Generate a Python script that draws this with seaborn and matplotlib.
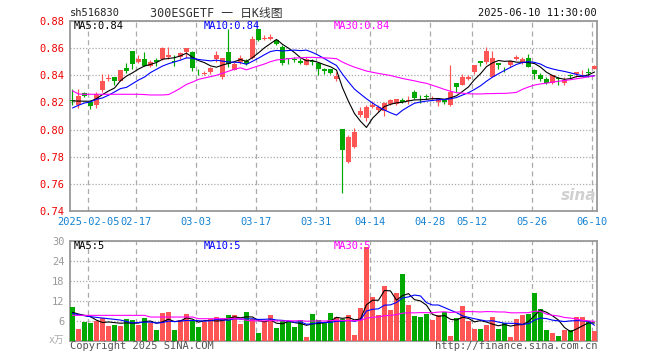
import numpy as np
import pandas as pd
import matplotlib
matplotlib.use("Agg")
import matplotlib.pyplot as plt
import seaborn as sns

# ---------------- data ----------------
tick_labels = ["2025-02-05", "02-17", "03-03", "03-17", "03-31",
               "04-14", "04-28", "05-12", "05-26", "06-10"]
tick_index = [3, 11, 21, 31, 41, 50, 60, 67, 77, 87]

opens = [0.822, 0.818, 0.827, 0.820, 0.818, 0.829, 0.837, 0.839, 0.836, 0.845,
         0.858, 0.850, 0.852, 0.847, 0.8509, 0.852, 0.8535, 0.8503, 0.8535, 0.857,
         0.857, 0.8435, 0.8413, 0.8425, 0.852, 0.839, 0.857, 0.8437, 0.850, 0.8503,
         0.853, 0.874, 0.867, 0.8665, 0.8658, 0.861, 0.8528, 0.8523, 0.8503, 0.8479,
         0.8503, 0.8493, 0.8449, 0.8444, 0.8371, 0.8007, 0.7762, 0.7872, 0.8110, 0.8086,
         0.8167, 0.8142, 0.8135, 0.8191, 0.8191, 0.8216, 0.8213, 0.8277, 0.8228, 0.8248,
         0.8226, 0.8204, 0.8221, 0.8184, 0.8344, 0.8331, 0.8371, 0.8425, 0.8503, 0.8498,
         0.8388, 0.8493, 0.8449, 0.8479, 0.8518, 0.8498, 0.8528, 0.8437, 0.8405, 0.8376,
         0.8346, 0.8380, 0.8346, 0.8400, 0.8412, 0.8407, 0.8425, 0.8449]
highs = [0.830, 0.830, 0.828, 0.822, 0.828, 0.841, 0.841, 0.839, 0.844, 0.849,
         0.858, 0.855, 0.857, 0.851, 0.853, 0.861, 0.861, 0.855, 0.857, 0.860,
         0.858, 0.845, 0.843, 0.846, 0.858, 0.853, 0.874, 0.850, 0.855, 0.852,
         0.869, 0.8744, 0.8695, 0.8707, 0.8658, 0.862, 0.8528, 0.8535, 0.8528, 0.8535,
         0.8523, 0.8498, 0.8454, 0.8450, 0.8425, 0.8007, 0.7958, 0.8012, 0.8167, 0.8184,
         0.8208, 0.8184, 0.8204, 0.8223, 0.8228, 0.8233, 0.8248, 0.8289, 0.8257, 0.8265,
         0.8250, 0.8228, 0.8228, 0.8479, 0.8344, 0.8412, 0.8400, 0.8479, 0.8503, 0.8609,
         0.8577, 0.8493, 0.8461, 0.8511, 0.8552, 0.8535, 0.8560, 0.8449, 0.8420, 0.8388,
         0.8400, 0.8388, 0.8388, 0.8412, 0.8425, 0.8437, 0.8454, 0.8474]
lows = [0.818, 0.816, 0.824, 0.815, 0.816, 0.828, 0.836, 0.833, 0.836, 0.842,
        0.845, 0.849, 0.847, 0.846, 0.847, 0.851, 0.852, 0.847, 0.852, 0.853,
        0.843, 0.8405, 0.840, 0.8413, 0.850, 0.8376, 0.846, 0.8437, 0.8486, 0.8474,
        0.852, 0.865, 0.8658, 0.8658, 0.862, 0.8474, 0.8486, 0.8498, 0.8486, 0.8474,
        0.8474, 0.8405, 0.8413, 0.8413, 0.8356, 0.7536, 0.7757, 0.7865, 0.8093, 0.8061,
        0.8159, 0.8130, 0.8100, 0.8179, 0.8179, 0.8199, 0.8191, 0.8223, 0.8199, 0.8223,
        0.8216, 0.8174, 0.8191, 0.8174, 0.8277, 0.8326, 0.8363, 0.8412, 0.8469, 0.8486,
        0.8388, 0.8444, 0.8425, 0.8462, 0.8511, 0.8486, 0.8461, 0.8371, 0.8356, 0.8339,
        0.8339, 0.8331, 0.8331, 0.8380, 0.8388, 0.8388, 0.8388, 0.8444]
closes = [0.821, 0.825, 0.825, 0.817, 0.826, 0.836, 0.838, 0.836, 0.844, 0.843,
          0.848, 0.852, 0.847, 0.850, 0.8500, 0.860, 0.855, 0.8498, 0.8567, 0.860,
          0.845, 0.8428, 0.842, 0.845, 0.855, 0.853, 0.8486, 0.8486, 0.853, 0.848,
          0.867, 0.866, 0.8675, 0.8683, 0.8633, 0.849, 0.8518, 0.8515, 0.8493, 0.8518,
          0.8498, 0.8449, 0.8430, 0.8420, 0.8395, 0.7847, 0.7946, 0.7983, 0.8135, 0.8167,
          0.8184, 0.8167, 0.8196, 0.8216, 0.8223, 0.8204, 0.8216, 0.8233, 0.8223, 0.8238,
          0.8228, 0.8223, 0.8204, 0.8277, 0.8314, 0.8388, 0.8388, 0.8474, 0.8491, 0.8577,
          0.8528, 0.8474, 0.8444, 0.8503, 0.8535, 0.8523, 0.8461, 0.8412, 0.8371, 0.8346,
          0.8400, 0.8371, 0.8363, 0.8395, 0.8425, 0.8412, 0.8420, 0.8469]
volumes = [10.2, 3.6, 5.7, 5.3, 6.0, 6.7, 4.4, 4.7, 4.4, 6.5,
           6.2, 4.7, 6.9, 5.2, 3.2, 8.3, 8.7, 3.2, 6.2, 8.0,
           6.2, 4.2, 5.5, 6.5, 7.1, 6.8, 7.7, 7.7, 5.0, 8.6,
           6.6, 2.3, 5.8, 7.7, 3.8, 5.8, 5.8, 4.1, 6.2, 1.2,
           8.0, 6.2, 5.5, 8.4, 7.0, 6.4, 7.7, 1.7, 9.9, 28.2,
           13.2, 7.7, 16.4, 9.2, 14.3, 20.0, 10.7, 7.4, 7.2, 8.0,
           6.2, 7.7, 8.7, 1.5, 6.9, 10.4, 5.9, 3.5, 3.5, 4.7,
           7.2, 3.5, 5.4, 1.1, 6.5, 7.7, 8.0, 14.3, 9.5, 3.2,
           2.4, 1.5, 3.2, 3.2, 7.2, 7.2, 6.0, 3.0]

# moving-average values at the left edge (they depend on days before the window),
# read off the reference picture
ma5_head = [0.8211, 0.8210, 0.8209, 0.8209]
ma10_head = [0.8159, 0.8179, 0.8196, 0.8204, 0.8223, 0.8233, 0.8253, 0.8277, 0.8302]
ma30_head = [0.8286, 0.8262, 0.8260, 0.8260, 0.8260, 0.8260, 0.8260, 0.8260, 0.8260,
             0.8260, 0.8260, 0.8260, 0.8258, 0.8255, 0.8255, 0.8255, 0.8258, 0.8280,
             0.8305, 0.8333, 0.8350, 0.8370, 0.8380, 0.8390, 0.8400, 0.8415, 0.8430,
             0.8445, 0.8455]
vma5_head = [8.5, 8.0, 7.6, 7.2]
vma10_head = [8.2, 7.8, 7.5, 7.2, 7.0, 6.8, 6.6, 6.4, 6.2]
vma30_head = [7.6, 7.6, 7.6, 7.6, 7.6, 7.6, 7.6, 7.6, 7.6, 7.6, 7.6, 7.6, 7.6,
              7.1, 7.1, 7.1, 7.1, 7.1, 7.1, 7.1, 7.1,
              6.6, 6.6, 6.6, 6.6, 6.6, 6.6, 6.6, 6.6]

# ---------------- style ----------------
W, H = 660, 360
RED, GREEN = "#ff5555", "#00a800"
sns.set_style("white")
plt.rcParams["font.family"] = ["DejaVu Sans Mono", "Noto Sans CJK SC"]

df = pd.DataFrame({"open": opens, "high": highs, "low": lows,
                   "close": closes, "vol": volumes})
n = len(df)
df["x"] = np.arange(n)
BW = 0.83
df["xc"] = df["x"] + BW / 2
df["up"] = df["close"] >= df["open"]
cols = np.where(df["up"], RED, GREEN)

heads = {"ma5": ma5_head, "ma10": ma10_head, "ma30": ma30_head,
         "vma5": vma5_head, "vma10": vma10_head, "vma30": vma30_head}
for k in (5, 10, 30):
    m = df["close"].rolling(k, min_periods=1).mean().to_numpy()
    m[:len(heads[f"ma{k}"])] = heads[f"ma{k}"]
    df[f"ma{k}"] = m
    v = df["vol"].rolling(k, min_periods=1).mean().to_numpy()
    v[:len(heads[f"vma{k}"])] = heads[f"vma{k}"]
    df[f"vma{k}"] = v

fig = plt.figure(figsize=(W / 100, H / 100), dpi=100)
ax = fig.add_axes([70 / W, 1 - 211 / H, 527 / W, 190 / H])
axv = fig.add_axes([70 / W, 1 - 340.7 / H, 527 / W, 100 / H])

# candles
ax.vlines(df["xc"], df["low"], df["high"], colors=cols, lw=0.85, zorder=3)
body = np.maximum((df["close"] - df["open"]).abs(), 0.0004)
ax.bar(df["x"], body, bottom=np.minimum(df["open"], df["close"]),
       width=BW, align="edge", color=cols, linewidth=0, zorder=3)
for k, c in ((5, "black"), (10, "#0000ff"), (30, "#ff00ff")):
    sns.lineplot(x=df["xc"], y=df[f"ma{k}"], ax=ax, color=c, lw=0.8,
                 legend=False, zorder=4)

# volume
axv.bar(df["x"], df["vol"], width=BW, align="edge", color=cols, linewidth=0, zorder=3)
for k, c in ((5, "black"), (10, "#0000ff"), (30, "#ff00ff")):
    sns.lineplot(x=df["xc"], y=df[f"vma{k}"], ax=axv, color=c, lw=0.8,
                 legend=False, zorder=4)

for a in (ax, axv):
    a.set_xlim(0, 527 / 6)
    a.set_xticks(tick_index)
    a.set_xlabel("")
    a.set_ylabel("")
    a.xaxis.grid(True, color="#aaaaaa", lw=0.9, ls=(0, (4, 3)), zorder=1)
    a.yaxis.grid(True, color="#aaaaaa", lw=0.9, ls=(0, (1, 1.5)), zorder=1)
    a.set_axisbelow(True)
    for s in a.spines.values():
        s.set_color("#999999")
        s.set_linewidth(1.3)
    a.tick_params(length=0)

ax.set_ylim(0.74, 0.88)
ax.set_yticks(np.arange(0.74, 0.8801, 0.02))
ax.set_yticklabels([f"{v:.2f}" for v in np.arange(0.74, 0.8801, 0.02)])
ax.tick_params(axis="y", labelcolor="#ee0000", labelsize=7.5, pad=4)
ax.set_xticklabels(tick_labels)
ax.tick_params(axis="x", labelcolor="#1482d2", labelsize=7.5, pad=4)

axv.set_ylim(0, 30)
axv.set_yticks([6, 12, 18, 24, 30])
axv.set_yticklabels(["6", "12", "18", "24", "30"])
axv.tick_params(axis="y", labelcolor="#999999", labelsize=7.5, pad=4)
axv.set_xticklabels([])


def ft(x, y, s, **kw):
    fig.text(x / W, 1 - y / H, s, **kw)


ft(70, 13, "sh516830", fontsize=7.5, va="center", ha="left", color="#222222")
ft(216, 13, "300ESGETF 一 日K线图", fontsize=8.5, va="center", ha="center", color="#333333")
ft(597, 13, "2025-06-10 11:30:00", fontsize=7.5, va="center", ha="right", color="#111111")
ft(74, 26, "MA5:0.84", fontsize=7.5, va="center", color="black")
ft(204, 26, "MA10:0.84", fontsize=7.5, va="center", color="#0000ff")
ft(334, 26, "MA30:0.84", fontsize=7.5, va="center", color="#ff00ff")
ft(74, 246, "MA5:5", fontsize=7.5, va="center", color="black")
ft(204, 246, "MA10:5", fontsize=7.5, va="center", color="#0000ff")
ft(334, 246, "MA30:5", fontsize=7.5, va="center", color="#ff00ff")
ft(64, 340, "x万", fontsize=7, va="center", ha="right", color="#aaaaaa")
ft(70, 346, "Copyright 2025 SINA.COM", fontsize=7.5, va="center", ha="left", color="#555555")
ft(597, 346, "http://finance.sina.com.cn", fontsize=7.5, va="center", ha="right", color="#555555")
ft(596, 196, "sina", fontsize=11, va="center", ha="right", color="#d0d0d0",
   fontweight="bold", style="italic", family="DejaVu Sans")

fig.savefig("out.png", dpi=100, facecolor="white")
